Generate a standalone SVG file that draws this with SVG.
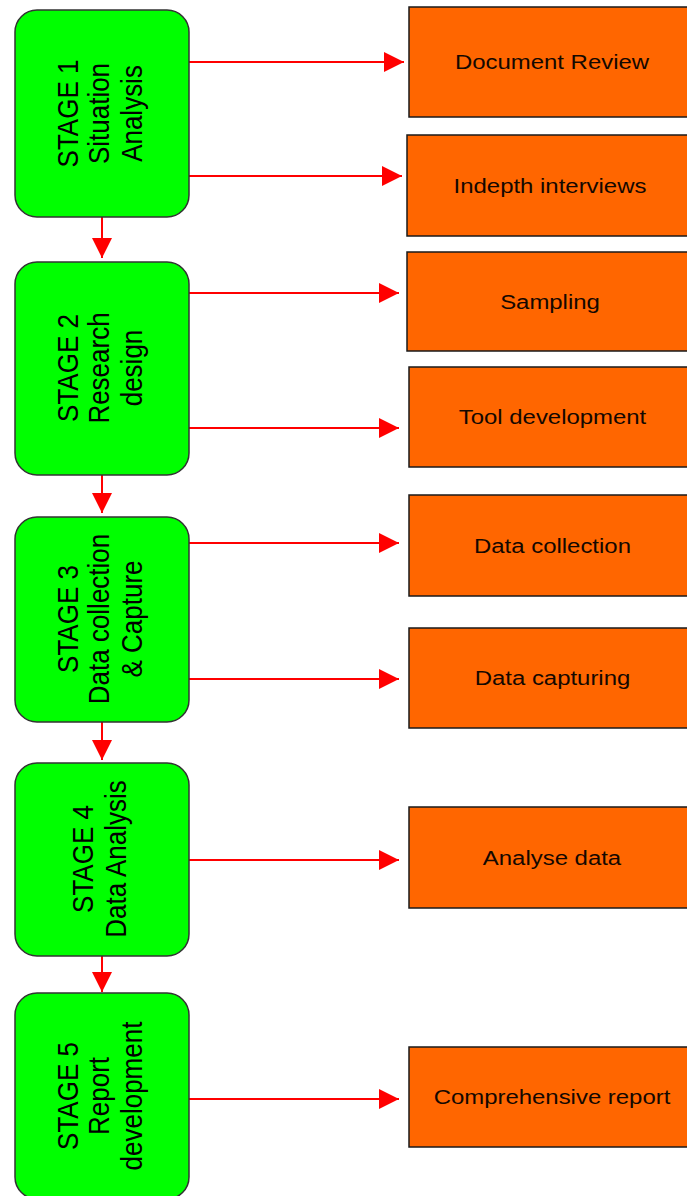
<svg xmlns="http://www.w3.org/2000/svg" width="687" height="1196" viewBox="0 0 687 1196">
<style>
.stage{fill:#00ff00;stroke:#333;stroke-width:1.5}
.task{fill:#ff6600;stroke:#1a1a1a;stroke-width:1.5}
.st{font-family:"Liberation Sans",Arial,sans-serif;font-size:26px;fill:#000;text-anchor:middle}
.tt{font-family:"Liberation Sans",Arial,sans-serif;font-size:21px;fill:#140800;text-anchor:middle}
.conn{stroke:#ff0000;stroke-width:2;fill:none;marker-end:url(#ah)}
</style>
<defs>
<marker id="ah" markerUnits="userSpaceOnUse" markerWidth="20" markerHeight="20" refX="20" refY="10" orient="auto">
<path d="M0,0 L20,10 L0,20 Z" fill="#ff0000"/>
</marker>
</defs>
<rect width="687" height="1196" fill="#fff"/>
<g id="connectors">
<line class="conn" x1="189" y1="62" x2="404" y2="62"/>
<line class="conn" x1="189" y1="176" x2="402" y2="176"/>
<line class="conn" x1="189" y1="293" x2="399" y2="293"/>
<line class="conn" x1="189" y1="428" x2="399" y2="428"/>
<line class="conn" x1="189" y1="543" x2="399" y2="543"/>
<line class="conn" x1="189" y1="679" x2="399" y2="679"/>
<line class="conn" x1="189" y1="860" x2="399" y2="860"/>
<line class="conn" x1="189" y1="1099" x2="399" y2="1099"/>
<line class="conn" x1="102" y1="217" x2="102" y2="258"/>
<line class="conn" x1="102" y1="475" x2="102" y2="513"/>
<line class="conn" x1="102" y1="722" x2="102" y2="760"/>
<line class="conn" x1="102" y1="956" x2="102" y2="992"/>
</g>
<g id="stage1">
<rect class="stage" x="15" y="10" width="174" height="207" rx="22"/>
<text class="st" transform="translate(78,113.5) rotate(-90) scale(1,1.15)">STAGE 1</text>
<text class="st" transform="translate(109,113.5) rotate(-90) scale(1,1.15)">Situation</text>
<text class="st" transform="translate(141.5,113.5) rotate(-90) scale(1,1.15)">Analysis</text>
</g>
<g id="stage2">
<rect class="stage" x="15" y="262" width="174" height="213" rx="22"/>
<text class="st" transform="translate(78,368) rotate(-90) scale(1,1.15)">STAGE 2</text>
<text class="st" transform="translate(109,368) rotate(-90) scale(1,1.15)">Research</text>
<text class="st" transform="translate(141.5,368) rotate(-90) scale(1,1.15)">design</text>
</g>
<g id="stage3">
<rect class="stage" x="15" y="517" width="174" height="205" rx="22"/>
<text class="st" transform="translate(78,619) rotate(-90) scale(1,1.15)">STAGE 3</text>
<text class="st" transform="translate(109,619) rotate(-90) scale(1,1.15)">Data collection</text>
<text class="st" transform="translate(141.5,619) rotate(-90) scale(1,1.15)">&amp; Capture</text>
</g>
<g id="stage4">
<rect class="stage" x="15" y="763" width="174" height="193" rx="22"/>
<text class="st" transform="translate(93,859) rotate(-90) scale(1,1.15)">STAGE 4</text>
<text class="st" transform="translate(125.5,859) rotate(-90) scale(1,1.15)">Data Analysis</text>
</g>
<g id="stage5">
<rect class="stage" x="15" y="993" width="174" height="206" rx="22"/>
<text class="st" transform="translate(78,1096) rotate(-90) scale(1,1.15)">STAGE 5</text>
<text class="st" transform="translate(109,1096) rotate(-90) scale(1,1.15)">Report</text>
<text class="st" transform="translate(141.5,1096) rotate(-90) scale(1,1.15)">development</text>
</g>
<g id="document-review">
<rect class="task" x="409" y="7" width="290" height="110"/>
<text class="tt" transform="translate(552,69) scale(1.14,1)">Document Review</text>
</g>
<g id="indepth-interviews">
<rect class="task" x="407" y="135" width="292" height="101"/>
<text class="tt" transform="translate(550,192.5) scale(1.14,1)">Indepth interviews</text>
</g>
<g id="sampling">
<rect class="task" x="407" y="252" width="292" height="99"/>
<text class="tt" transform="translate(550,308.5) scale(1.14,1)">Sampling</text>
</g>
<g id="tool-development">
<rect class="task" x="409" y="367" width="290" height="100"/>
<text class="tt" transform="translate(552.5,424) scale(1.14,1)">Tool development</text>
</g>
<g id="data-collection">
<rect class="task" x="409" y="495" width="290" height="101"/>
<text class="tt" transform="translate(552.5,552.5) scale(1.14,1)">Data collection</text>
</g>
<g id="data-capturing">
<rect class="task" x="409" y="628" width="290" height="100"/>
<text class="tt" transform="translate(552.5,685) scale(1.14,1)">Data capturing</text>
</g>
<g id="analyse-data">
<rect class="task" x="409" y="807" width="290" height="101"/>
<text class="tt" transform="translate(552,864.5) scale(1.14,1)">Analyse data</text>
</g>
<g id="comprehensive-report">
<rect class="task" x="409" y="1047" width="290" height="100"/>
<text class="tt" transform="translate(552,1104) scale(1.14,1)">Comprehensive report</text>
</g>
</svg>
